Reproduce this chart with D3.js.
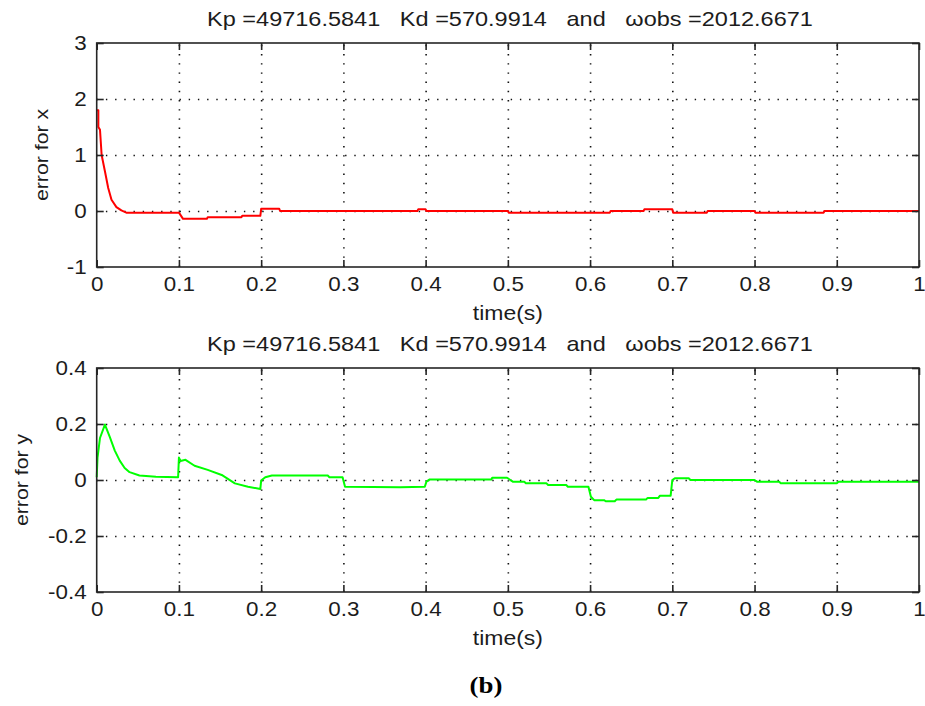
<!DOCTYPE html>
<html>
<head>
<meta charset="utf-8">
<script src="https://cdn.jsdelivr.net/npm/d3@7"></script>
<style>
  html, body { margin: 0; padding: 0; background: #ffffff; }
  svg { display: block; }
  text { font-family: "Liberation Sans", Arial, Helvetica, sans-serif; fill: #1c1c1c; }
  text.caption { font-family: "Liberation Serif", "Times New Roman", serif; font-weight: bold; fill: #000; }
</style>
</head>
<body>
<svg id="chart" width="925" height="706"></svg>
<script>
// ---- chart content ----
const titleText = "Kp =49716.5841   Kd =570.9914   and   \u03C9obs =2012.6671";
const xLabelText = "time(s)";
const captionText = "(b)";

const xTicks = [0, 0.1, 0.2, 0.3, 0.4, 0.5, 0.6, 0.7, 0.8, 0.9, 1];
const xTickLabels = ["0", "0.1", "0.2", "0.3", "0.4", "0.5", "0.6", "0.7", "0.8", "0.9", "1"];

const yTicksX = [-1, 0, 1, 2, 3];
const yTickLabelsX = ["-1", "0", "1", "2", "3"];
const yTicksY = [-0.4, -0.2, 0, 0.2, 0.4];
const yTickLabelsY = ["-0.4", "-0.2", "0", "0.2", "0.4"];

// error for x (time in s, error)
const tX = [0, 0.002, 0.002, 0.004, 0.006, 0.010, 0.014, 0.018, 0.024, 0.030, 0.036, 0.100,
  0.105, 0.134, 0.135, 0.176, 0.177, 0.199, 0.200, 0.222, 0.223, 0.390, 0.391, 0.400,
  0.401, 0.500, 0.501, 0.624, 0.625, 0.665, 0.666, 0.700, 0.701, 0.742, 0.743, 0.800,
  0.801, 0.884, 0.885, 1.000];
const errX = [1.80, 1.80, 1.50, 1.45, 1.00, 0.71, 0.41, 0.20, 0.07, 0.01, -0.03, -0.03,
  -0.14, -0.14, -0.11, -0.11, -0.085, -0.085, 0.04, 0.04, 0.00, 0.00, 0.03, 0.03,
  0.00, 0.00, -0.03, -0.03, 0.00, 0.00, 0.03, 0.03, -0.03, -0.03, 0.00, 0.00,
  -0.03, -0.03, 0.00, 0.00];

// error for y (time in s, error)
const tY = [0, 0.001, 0.004, 0.010, 0.016, 0.022, 0.028, 0.034, 0.040, 0.052, 0.072, 0.099,
  0.100, 0.102, 0.108, 0.119, 0.135, 0.152, 0.168, 0.184, 0.199, 0.200, 0.205, 0.213,
  0.281, 0.283, 0.299, 0.302, 0.369, 0.399, 0.401, 0.405, 0.480, 0.481, 0.499, 0.503,
  0.506, 0.520, 0.522, 0.547, 0.549, 0.571, 0.573, 0.598, 0.601, 0.603, 0.605, 0.617,
  0.619, 0.630, 0.632, 0.668, 0.670, 0.683, 0.685, 0.698, 0.700, 0.703, 0.720, 0.722,
  0.800, 0.803, 0.830, 0.832, 0.900, 0.902, 1.000];
const errY = [0.010, 0.080, 0.150, 0.198, 0.153, 0.105, 0.069, 0.043, 0.028, 0.016, 0.012, 0.010,
  0.080, 0.068, 0.072, 0.051, 0.036, 0.018, -0.012, -0.024, -0.032, -0.002, 0.010, 0.016,
  0.016, 0.010, 0.010, -0.024, -0.026, -0.024, -0.006, 0.002, 0.002, 0.008, 0.008, 0.000,
  -0.006, -0.006, -0.012, -0.012, -0.018, -0.018, -0.024, -0.024, -0.060, -0.066, -0.072, -0.072,
  -0.076, -0.076, -0.070, -0.070, -0.064, -0.064, -0.056, -0.056, 0.000, 0.006, 0.006, 0.000,
  0.000, -0.006, -0.006, -0.012, -0.012, -0.006, -0.006];

// ---- layout ----
const svg = d3.select("#chart");
const SX = 1.12;             // horizontal stretch of the lettering
const left = 96.7, right = 919;
const axisColor = "#262626";

function stretchedText(parent, x, y, str, opts) {
  const g = parent.append("g")
    .attr("transform", `translate(${x},${y})` + (opts.rotate ? ` rotate(${opts.rotate})` : "") + ` scale(${SX},1)`);
  return g.append("text")
    .attr("x", 0).attr("y", 0)
    .attr("text-anchor", opts.anchor || "middle")
    .attr("font-size", opts.size)
    .style("white-space", "pre")
    .text(str);
}

function drawPanel(cfg) {
  const g = svg.append("g");
  const x = d3.scaleLinear().domain([0, 1]).range([left, right]);
  const y = d3.scaleLinear().domain(cfg.domain).range([cfg.bottom, cfg.top]);
  const h = cfg.bottom - cfg.top, w = right - left;

  // dotted grid
  const gx = g.append("g").attr("transform", `translate(0,${cfg.bottom})`)
    .call(d3.axisBottom(x).tickValues(xTicks.slice(1, -1)).tickSize(-h).tickFormat(""));
  const gy = g.append("g").attr("transform", `translate(${left},0)`)
    .call(d3.axisLeft(y).tickValues(cfg.yTicks.slice(1, -1)).tickSize(-w).tickFormat(""));
  [gx, gy].forEach(a => {
    a.select(".domain").remove();
    a.selectAll("line").attr("stroke", "#111").attr("stroke-width", 1.6)
      .attr("stroke-dasharray", "1.4,7.8").attr("stroke-linecap", "butt");
  });

  // data line
  const pts = cfg.t.map((t, i) => [t, cfg.v[i]]);
  g.append("path")
    .datum(pts)
    .attr("fill", "none")
    .attr("stroke", cfg.color)
    .attr("stroke-width", 2)
    .attr("stroke-linejoin", "round")
    .attr("d", d3.line().x(d => x(d[0])).y(d => y(d[1])));

  // ticks on all four sides, pointing inward
  const tickLen = 7;
  const ab = g.append("g").attr("transform", `translate(0,${cfg.bottom})`)
    .call(d3.axisBottom(x).tickValues(xTicks).tickFormat((d, i) => xTickLabels[i])
      .tickSizeInner(-tickLen).tickSizeOuter(0).tickPadding(10));
  const al = g.append("g").attr("transform", `translate(${left},0)`)
    .call(d3.axisLeft(y).tickValues(cfg.yTicks).tickFormat((d, i) => cfg.yLabels[i])
      .tickSizeInner(-tickLen).tickSizeOuter(0).tickPadding(10));
  const at = g.append("g").attr("transform", `translate(0,${cfg.top})`)
    .call(d3.axisTop(x).tickValues(xTicks).tickFormat("").tickSizeInner(-tickLen).tickSizeOuter(0));
  const ar = g.append("g").attr("transform", `translate(${right},0)`)
    .call(d3.axisRight(y).tickValues(cfg.yTicks).tickFormat("").tickSizeInner(-tickLen).tickSizeOuter(0));
  [ab, al, at, ar].forEach(a => {
    a.select(".domain").remove();
    a.selectAll("line").attr("stroke", axisColor).attr("stroke-width", 1.6);
    a.selectAll("text").attr("font-size", 20).attr("fill", "#1c1c1c")
      .attr("font-family", "'Liberation Sans', Arial, sans-serif");
  });
  ab.selectAll("text").attr("transform", `scale(${SX},1)`);
  al.selectAll("text").attr("transform", `scale(${SX},1)`).attr("x", -10 / SX);

  // axes box
  g.append("rect")
    .attr("x", left).attr("y", cfg.top).attr("width", w).attr("height", h)
    .attr("fill", "none").attr("stroke", axisColor).attr("stroke-width", 1.6);

  // title, x label, y label
  stretchedText(g, 510, cfg.top - 17, titleText, { size: 21 });
  stretchedText(g, (left + right) / 2, cfg.bottom + 53, xLabelText, { size: 20.5 });
  stretchedText(g, cfg.yLabelX, (cfg.top + cfg.bottom) / 2, cfg.yLabel, { size: 19, rotate: -90 });
}

drawPanel({
  top: 43, bottom: 267, domain: [-1, 3],
  yTicks: yTicksX, yLabels: yTickLabelsX,
  t: tX, v: errX, color: "#ff0000",
  yLabel: "error for x", yLabelX: 48
});

drawPanel({
  top: 368, bottom: 592, domain: [-0.4, 0.4],
  yTicks: yTicksY, yLabels: yTickLabelsY,
  t: tY, v: errY, color: "#00ff00",
  yLabel: "error for y", yLabelX: 28
});

// caption
svg.append("g")
  .attr("transform", `translate(486,693) scale(${SX},1)`)
  .append("text")
  .attr("class", "caption")
  .attr("text-anchor", "middle")
  .attr("font-size", 24)
  .text(captionText);
</script>
</body>
</html>
